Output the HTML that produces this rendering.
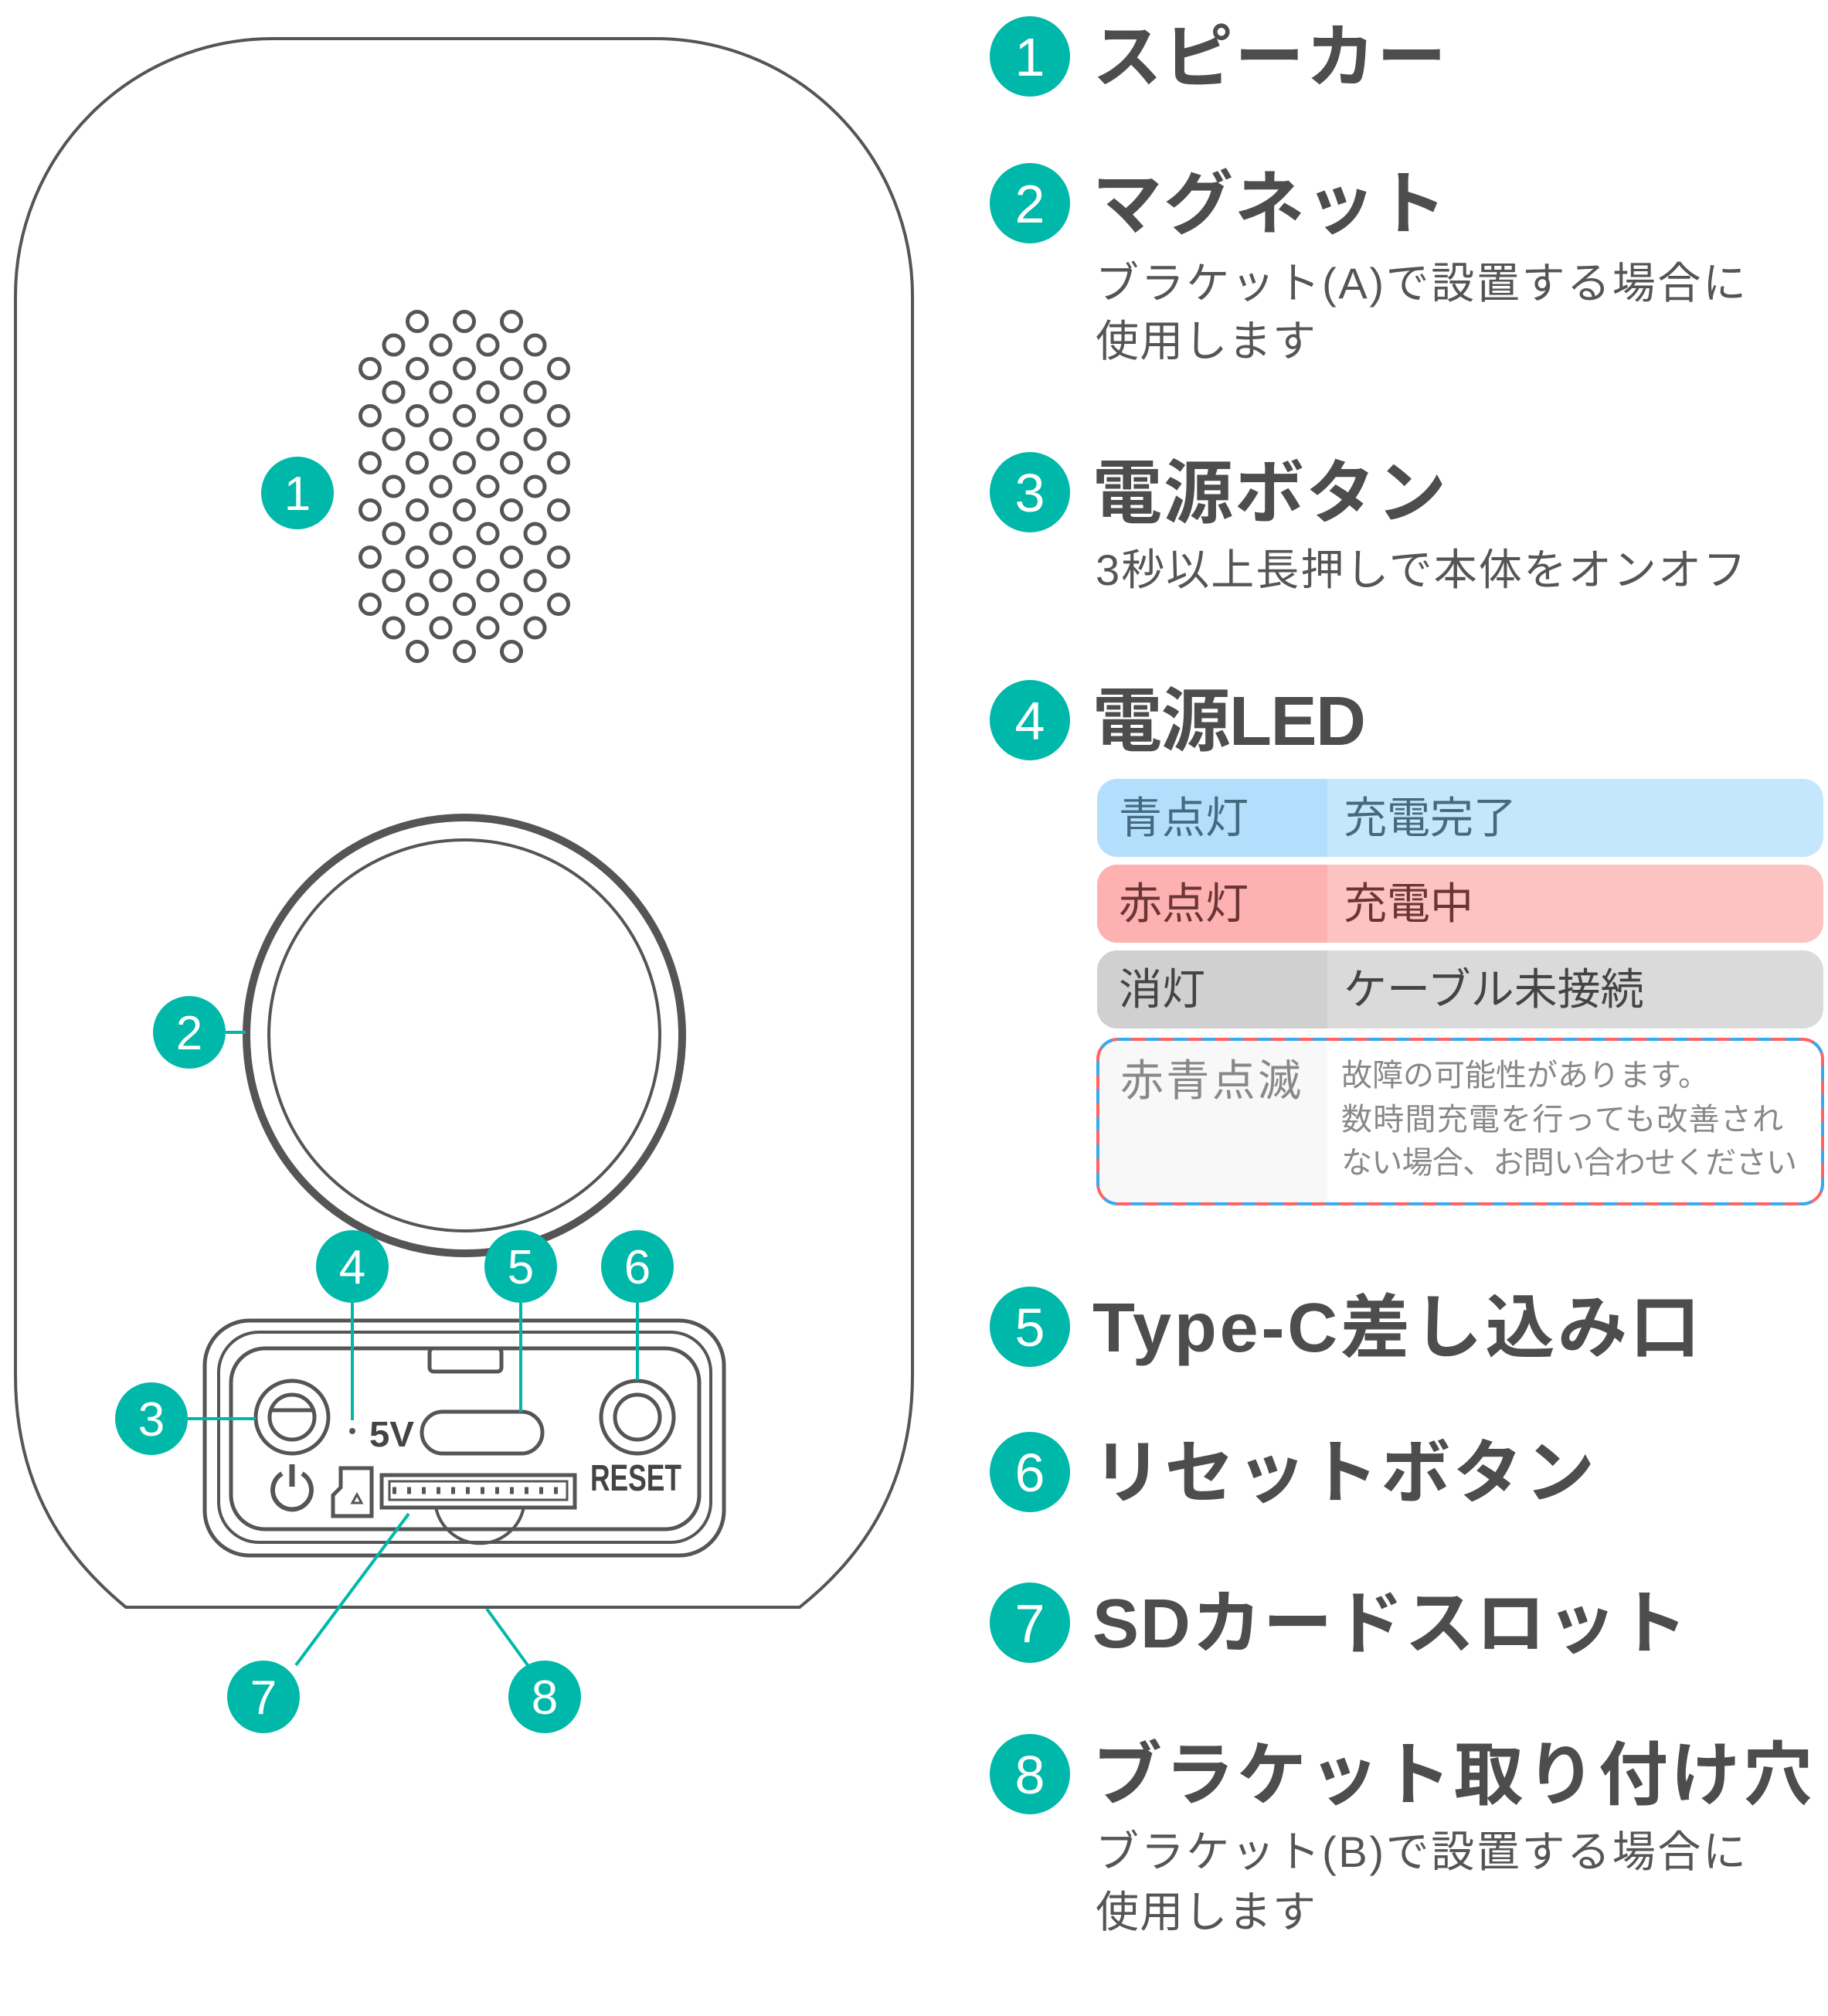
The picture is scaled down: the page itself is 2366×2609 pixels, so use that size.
<!DOCTYPE html>
<html><head><meta charset="utf-8"><style>
html,body{margin:0;padding:0;background:#fff;}
svg{display:block;}
text{font-family:"Liberation Sans","Noto Sans CJK JP",sans-serif;}
.h{font-weight:bold;fill:#4d4d4d;font-size:90px;}
.s{fill:#555;font-size:56px;}
.n{fill:#fff;font-family:"Liberation Sans",sans-serif;text-anchor:middle;}
.c{fill:#00b8a9;}
.ln{stroke:#00b8a9;stroke-width:4;fill:none;}
.g{stroke:#555;fill:none;}
</style></head><body>
<svg width="2366" height="2609" viewBox="0 0 2366 2609" xmlns="http://www.w3.org/2000/svg">
<rect width="2366" height="2609" fill="#fff"/>
<path class="g" stroke-width="4" d="M20,383 A333,333 0 0 1 353,50 L848,50 A333,333 0 0 1 1181,383 L1181,1780 C1181,1930 1110,2020 1035,2080 L163,2080 C90,2020 20,1930 20,1780 Z"/>
<g class="g" stroke-width="5" id="dots"></g>
<circle cx="601" cy="1340" r="282" class="g" stroke-width="10"/>
<circle cx="601" cy="1340" r="253" class="g" stroke-width="4"/>
<!-- panel -->
<rect x="265" y="1709" width="672" height="304" rx="58" class="g" stroke-width="5"/>
<rect x="283" y="1724" width="637" height="272" rx="52" class="g" stroke-width="4"/>
<rect x="299" y="1745" width="606" height="234" rx="44" class="g" stroke-width="5"/>
<rect x="556" y="1745" width="93" height="30" rx="5" class="g" stroke-width="5"/>
<circle cx="378" cy="1834" r="47" class="g" stroke-width="5"/>
<circle cx="378" cy="1834" r="29" class="g" stroke-width="5"/>
<line x1="350" y1="1825" x2="406" y2="1825" stroke="#555" stroke-width="5"/>
<circle cx="456" cy="1852" r="4" fill="#555"/>
<text x="478" y="1872" font-size="46" font-weight="bold" fill="#444" textLength="58" lengthAdjust="spacingAndGlyphs">5V</text>
<rect x="546" y="1827" width="156" height="54" rx="27" class="g" stroke-width="5"/>
<circle cx="825" cy="1834" r="47" class="g" stroke-width="5"/>
<circle cx="825" cy="1834" r="29" class="g" stroke-width="5"/>
<text x="764" y="1929" font-size="48" font-weight="bold" fill="#444" textLength="118" lengthAdjust="spacingAndGlyphs">RESET</text>
<path class="g" stroke-width="6" d="M365,1907 A25,25 0 1 0 391,1907"/>
<line x1="378" y1="1895" x2="378" y2="1924" stroke="#555" stroke-width="7"/>
<path class="g" stroke-width="5" d="M441,1900 L481,1900 L481,1962 L431,1962 L431,1935 L441,1925 Z"/>
<path d="M456,1945 L462,1934 L468,1945 Z" class="g" stroke-width="3"/>
<path class="g" stroke-width="4" d="M564,1950 A58,58 0 0 0 678,1950"/>
<rect x="494" y="1909" width="250" height="42" fill="#fff" stroke="#555" stroke-width="5"/>
<rect x="504" y="1917" width="230" height="24" fill="none" stroke="#555" stroke-width="3"/>
<line x1="508" y1="1929" x2="732" y2="1929" stroke="#555" stroke-width="9" stroke-dasharray="5 14"/>
<!-- connectors -->
<line class="ln" x1="318" y1="1336" x2="292" y2="1336"/>
<line class="ln" x1="331" y1="1836" x2="243" y2="1836"/>
<line class="ln" x1="456" y1="1686" x2="456" y2="1838"/>
<line class="ln" x1="674" y1="1686" x2="674" y2="1827"/>
<line class="ln" x1="825" y1="1686" x2="825" y2="1786"/>
<line class="ln" x1="529" y1="1959" x2="383" y2="2155"/>
<line class="ln" x1="630" y1="2082" x2="683" y2="2155"/>
<g font-size="62">
<circle class="c" cx="385" cy="638" r="47"/><text class="n" x="385" y="660">1</text>
<circle class="c" cx="245" cy="1336" r="47"/><text class="n" x="245" y="1358">2</text>
<circle class="c" cx="196" cy="1836" r="47"/><text class="n" x="196" y="1858">3</text>
<circle class="c" cx="456" cy="1639" r="47"/><text class="n" x="456" y="1661">4</text>
<circle class="c" cx="674" cy="1639" r="47"/><text class="n" x="674" y="1661">5</text>
<circle class="c" cx="825" cy="1639" r="47"/><text class="n" x="825" y="1661">6</text>
<circle class="c" cx="341" cy="2196" r="47"/><text class="n" x="341" y="2218">7</text>
<circle class="c" cx="705" cy="2196" r="47"/><text class="n" x="705" y="2218">8</text>
</g>
<g font-size="70">
<circle class="c" cx="1333" cy="73" r="52"/><text class="n" x="1333" y="98">1</text>
<circle class="c" cx="1333" cy="263" r="52"/><text class="n" x="1333" y="288">2</text>
<circle class="c" cx="1333" cy="637" r="52"/><text class="n" x="1333" y="662">3</text>
<circle class="c" cx="1333" cy="932" r="52"/><text class="n" x="1333" y="957">4</text>
<circle class="c" cx="1333" cy="1717" r="52"/><text class="n" x="1333" y="1742">5</text>
<circle class="c" cx="1333" cy="1905" r="52"/><text class="n" x="1333" y="1930">6</text>
<circle class="c" cx="1333" cy="2100" r="52"/><text class="n" x="1333" y="2125">7</text>
<circle class="c" cx="1333" cy="2296" r="52"/><text class="n" x="1333" y="2321">8</text>
</g>
<text class="h" x="1414" y="105" textLength="458" lengthAdjust="spacing">スピーカー</text>
<text class="h" x="1414" y="295" textLength="458" lengthAdjust="spacing">マグネット</text>
<text class="s" x="1418" y="386" textLength="842" lengthAdjust="spacing">ブラケット(A)で設置する場合に</text>
<text class="s" x="1418" y="461" textLength="285" lengthAdjust="spacing">使用します</text>
<text class="h" x="1414" y="669" textLength="458" lengthAdjust="spacing">電源ボタン</text>
<text class="s" x="1418" y="757" textLength="842" lengthAdjust="spacing">3秒以上長押しで本体をオンオフ</text>
<text class="h" x="1414" y="964" textLength="354" lengthAdjust="spacing">電源LED</text>
<defs>
<clipPath id="r1"><rect x="1420" y="1008" width="940" height="101" rx="26"/></clipPath>
<clipPath id="r2"><rect x="1420" y="1119" width="940" height="101" rx="26"/></clipPath>
<clipPath id="r3"><rect x="1420" y="1230" width="940" height="101" rx="26"/></clipPath>
<clipPath id="r4"><rect x="1420" y="1344" width="940" height="215" rx="26"/></clipPath>
</defs>
<g clip-path="url(#r1)"><rect x="1420" y="1008" width="940" height="101" fill="#c5e7fd"/><rect x="1420" y="1008" width="298" height="101" fill="#b3dffd"/></g>
<g clip-path="url(#r2)"><rect x="1420" y="1119" width="940" height="101" fill="#fdc3c3"/><rect x="1420" y="1119" width="298" height="101" fill="#fdb1b1"/></g>
<g clip-path="url(#r3)"><rect x="1420" y="1230" width="940" height="101" fill="#dadada"/><rect x="1420" y="1230" width="298" height="101" fill="#d0d0d0"/></g>
<g clip-path="url(#r4)"><rect x="1420" y="1344" width="940" height="215" fill="#fff"/><rect x="1420" y="1344" width="298" height="215" fill="#f8f8f8"/></g>
<rect x="1421" y="1345" width="938" height="213" rx="26" fill="none" stroke="#ff6464" stroke-width="4"/>
<rect x="1421" y="1345" width="938" height="213" rx="26" fill="none" stroke="#3aa8ee" stroke-width="4" stroke-dasharray="18 18"/>
<g font-size="56">
<text x="1448" y="1078" fill="#456a80">青点灯</text>
<text x="1739" y="1078" fill="#456a80">充電完了</text>
<text x="1448" y="1189" fill="#6b3535">赤点灯</text>
<text x="1739" y="1189" fill="#6b3535">充電中</text>
<text x="1448" y="1300" fill="#444">消灯</text>
<text x="1739" y="1300" fill="#444">ケーブル未接続</text>
<text x="1450" y="1418" fill="#888" textLength="234" lengthAdjust="spacing">赤青点滅</text>
</g>
<g font-size="40" fill="#888">
<text x="1736" y="1405">故障の可能性があります。</text>
<text x="1736" y="1462" textLength="572" lengthAdjust="spacing">数時間充電を行っても改善され</text>
<text x="1736" y="1518" textLength="590" lengthAdjust="spacing">ない場合、お問い合わせください</text>
</g>
<text class="h" x="1414" y="1749" textLength="786" lengthAdjust="spacing">Type-C差し込み口</text>
<text class="h" x="1414" y="1937" textLength="650" lengthAdjust="spacing">リセットボタン</text>
<text class="h" x="1414" y="2132" textLength="770" lengthAdjust="spacing">SDカードスロット</text>
<text class="h" x="1414" y="2328" textLength="932" lengthAdjust="spacing">ブラケット取り付け穴</text>
<text class="s" x="1418" y="2416" textLength="842" lengthAdjust="spacing">ブラケット(B)で設置する場合に</text>
<text class="s" x="1418" y="2494" textLength="285" lengthAdjust="spacing">使用します</text>
</svg>
<script>
(function(){
var g=document.getElementById('dots'),ns='http://www.w3.org/2000/svg';
var xs=[479,509.5,540,570.5,601,631.5,662,692.5,723];
for(var r=0;r<15;r++){
 var y=416+r*30.5, idx;
 if(r==0||r==14) idx=[2,4,6];
 else if(r%2==1) idx=[1,3,5,7];
 else idx=[0,2,4,6,8];
 idx.forEach(function(i){var c=document.createElementNS(ns,'circle');c.setAttribute('cx',xs[i]);c.setAttribute('cy',y);c.setAttribute('r',12.5);g.appendChild(c);});
}
})();
</script>
</body></html>
